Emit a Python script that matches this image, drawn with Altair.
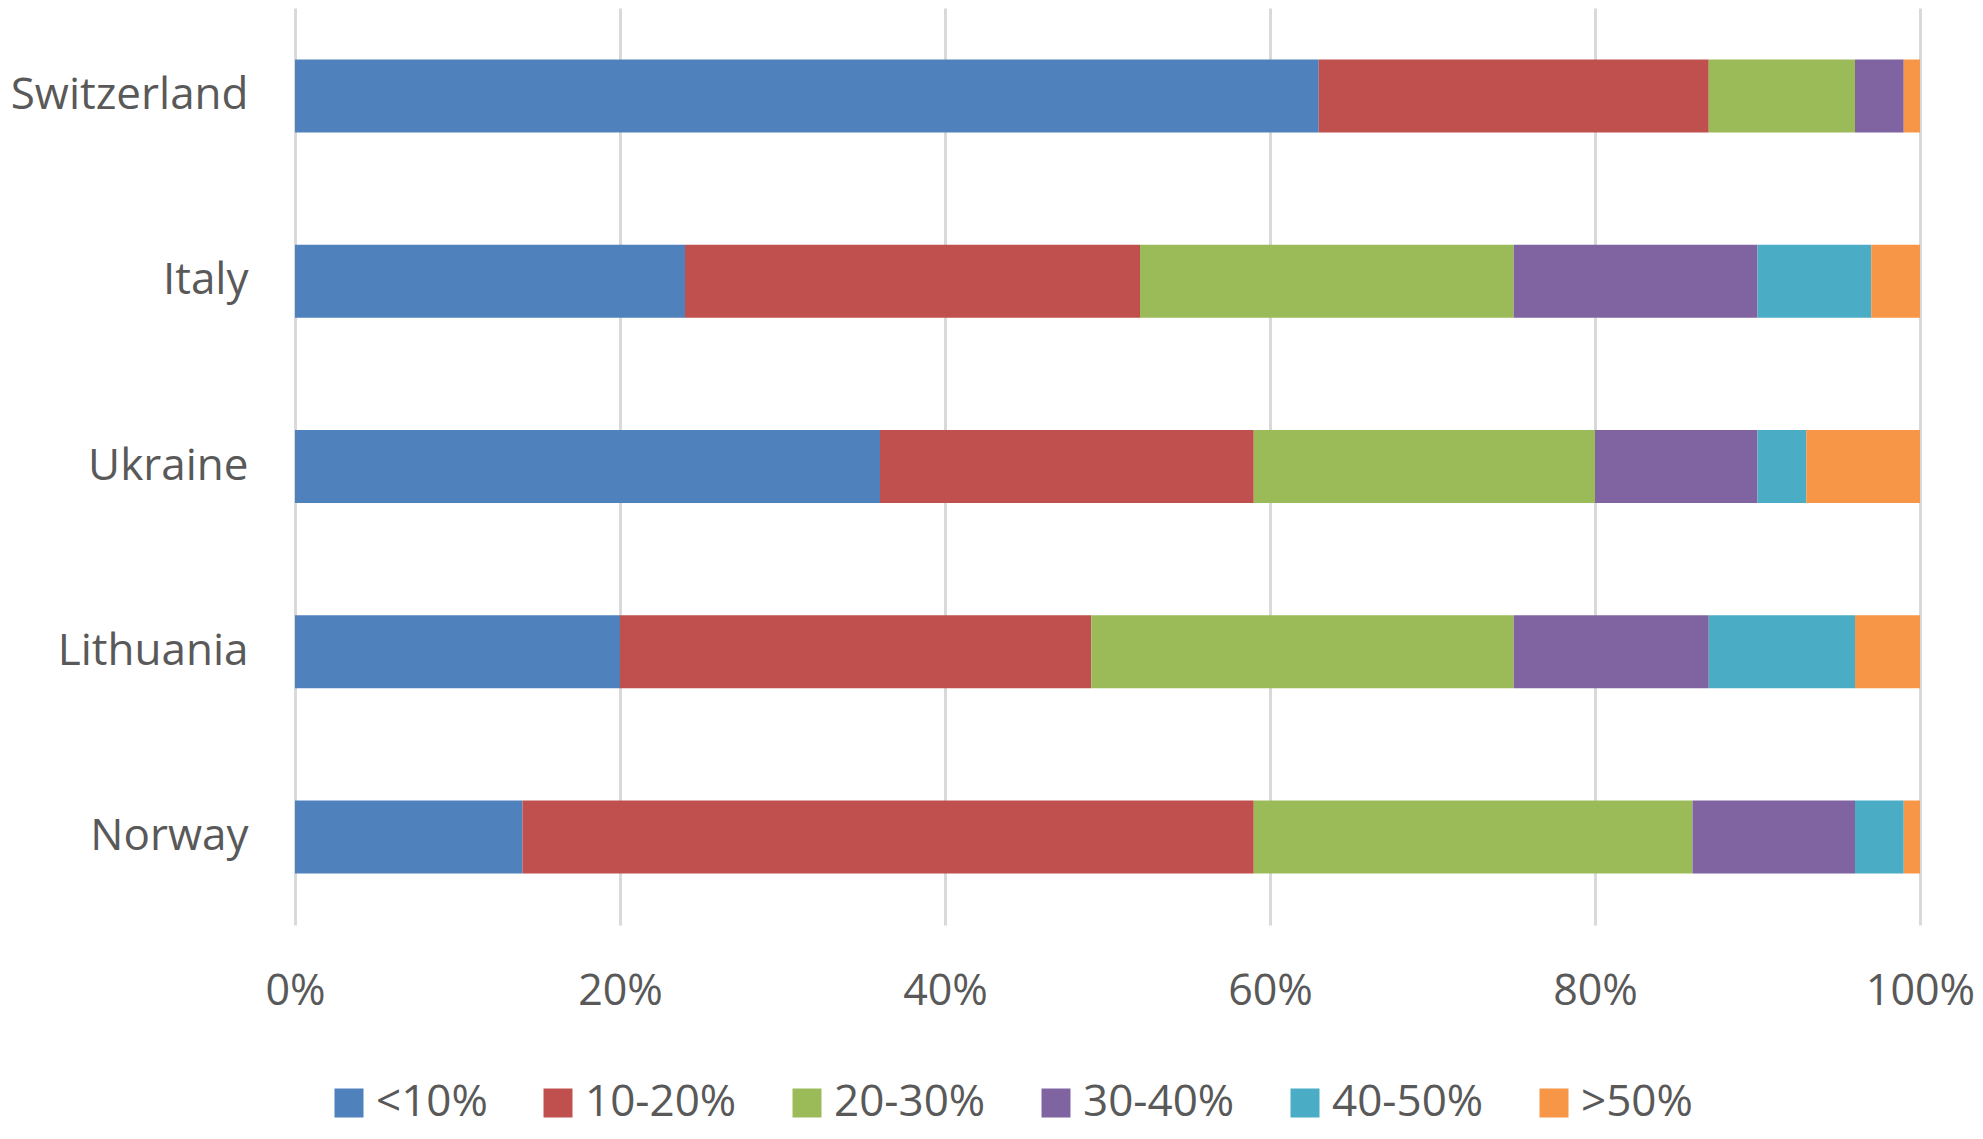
import altair as alt
import pandas as pd

countries = ["Switzerland", "Italy", "Ukraine", "Lithuania", "Norway"]
categories = ["<10%", "10-20%", "20-30%", "30-40%", "40-50%", ">50%"]
colors = ["#4F81BD", "#C0504D", "#9BBB59", "#8064A2", "#4BACC6", "#F79646"]

lt10 = [63, 24, 36, 20, 14]
c10_20 = [24, 28, 23, 29, 45]
c20_30 = [9, 23, 21, 26, 27]
c30_40 = [3, 15, 10, 12, 10]
c40_50 = [0, 7, 3, 9, 3]
gt50 = [1, 3, 7, 4, 1]

series = [lt10, c10_20, c20_30, c30_40, c40_50, gt50]
rows = []
for ci, (cat, vals) in enumerate(zip(categories, series)):
    for country, v in zip(countries, vals):
        rows.append({"country": country, "category": cat, "value": v, "order": ci})
df = pd.DataFrame(rows)

FONT = "Open Sans"
TEXT = "#595959"

chart = alt.Chart(df).mark_bar().encode(
    y=alt.Y(
        "country:N",
        sort=countries,
        title=None,
        scale=alt.Scale(paddingInner=0.606, paddingOuter=0.278),
        axis=alt.Axis(
            domain=False, ticks=False, tickSize=0, grid=False,
            labelFontSize=44, labelColor=TEXT, labelPadding=47, labelFont=FONT,
            labelLimit=600,
        ),
    ),
    x=alt.X(
        "value:Q",
        stack="normalize",
        title=None,
        scale=alt.Scale(domain=[0, 1], nice=False),
        axis=alt.Axis(
            format=".0%", values=[0, 0.2, 0.4, 0.6, 0.8, 1.0],
            domain=False, ticks=False, tickSize=0,
            grid=True, gridColor="#D9D9D9", gridWidth=3,
            labelFontSize=43, labelColor=TEXT, labelPadding=45, labelFont=FONT,
            labelFlush=False, labelOverlap=False, labelLimit=600,
        ),
    ),
    color=alt.Color(
        "category:N",
        scale=alt.Scale(domain=categories, range=colors),
        legend=alt.Legend(
            title=None, orient="none", direction="horizontal",
            legendX=32, legendY=1073, padding=0,
            symbolType="square", symbolSize=841, symbolStrokeWidth=0,
            labelFontSize=44, labelColor=TEXT, labelFont=FONT,
            labelOffset=5, columnPadding=48, labelLimit=600,
        ),
    ),
    order=alt.Order("order:Q", sort="ascending"),
).properties(
    width=1625,
    height=917,
    autosize=alt.AutoSizeParams(type="none"),
    padding={"left": 287, "top": 0, "right": 55, "bottom": 206},
).configure(font=FONT, background="white").configure_view(strokeWidth=0, stroke=None)

chart.save("out.html", embed_options={"renderer": "svg", "actions": False})
